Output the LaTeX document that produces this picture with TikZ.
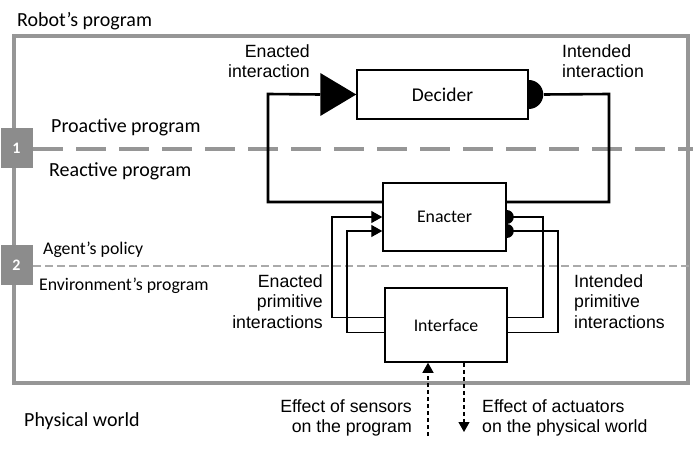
\documentclass[tikz,border=0pt]{standalone}
\usepackage{fontspec}
\setmainfont{Carlito}
\newfontfamily\arialf{Liberation Sans}
\usetikzlibrary{arrows.meta}
\definecolor{framegray}{RGB}{150,150,150}
\definecolor{boxgray}{RGB}{140,140,140}
\definecolor{thingray}{RGB}{170,170,170}
\tikzset{
  frame/.style={draw=framegray,line width=4pt},
  thickdash/.style={draw=framegray,line width=3.5pt,dash pattern=on 30pt off 13pt},
  thindash/.style={draw=thingray,line width=1.3pt,dash pattern=on 8pt off 4pt},
  numbox/.style={fill=boxgray,minimum width=32pt,minimum height=40pt,inner sep=0pt,text=white,font=\fontsize{16}{18}\selectfont\bfseries},
  blockbox/.style={draw,line width=1.5pt,inner sep=0pt},
  loopline/.style={line width=2.6pt},
  wire/.style={line width=1.3pt},
  tipin/.style={-{Triangle[length=11pt,width=12pt]}},
  dasharrow/.style={line width=1.2pt,dash pattern=on 4pt off 3pt,-{Triangle[length=10pt,width=11pt]}},
  calbig/.style={inner sep=0pt,font=\fontsize{20}{24}\selectfont},
  calmid/.style={inner sep=0pt,font=\fontsize{17.8}{21}\selectfont},
  arlab/.style={inner sep=0pt,font=\arialf\fontsize{17.7}{20.5}\selectfont},
}
\begin{document}
\begin{tikzpicture}[x=1pt,y=-1pt]
\useasboundingbox (0,0) rectangle (693,457);
% frame and separators
\draw[frame] (14,36) rectangle (688,383);
\draw[thickdash] (33,149) -- (693,149);
\draw[thindash] (33,266) -- (693,266);
\node[numbox] (n1) at (16.5,148.5) {1};
\node[numbox] (n2) at (16.5,265) {2};
% texts left
\node[calbig,anchor=base west] (robot) at (17,27) {Robot’s program};
\node[calbig,anchor=base west] (proact) at (51,133) {Proactive program};
\node[calbig,anchor=base west] (react) at (49,177) {Reactive program};
\node[calmid,anchor=base west] (agent) at (43,254) {Agent’s policy};
\node[calmid,anchor=base west] (envp) at (39,290) {Environment’s program};
\node[calbig,anchor=base west] (phys) at (24,426) {Physical world};
% blocks
\node[blockbox,minimum width=171pt,minimum height=49pt,font=\fontsize{19.5}{22}\selectfont] (decider) at (442.5,94.5) {Decider};
\node[blockbox,minimum width=123pt,minimum height=68pt,font=\fontsize{17.8}{21}\selectfont] (enacter) at (444.5,217) {Enacter};
\node[blockbox,minimum width=122pt,minimum height=74pt,font=\fontsize{17.8}{21}\selectfont] (interface) at (446,325) {Interface};
% main loop
\coordinate (cL) at (268,94);
\coordinate (cR) at (609,94);
\coordinate (ly) at (0,202);
\draw[loopline] ([xshift=-36pt]decider.west) -- (cL) -- (cL |- ly) -- (enacter.west |- ly);
\draw[loopline] ([xshift=15pt]decider.east) -- (cR) -- (cR |- ly) -- (enacter.east |- ly);
\fill (decider.west) -- ++(-36,-21.5) -- ++(0,43) -- cycle;
\fill (decider.east) ++(0,-14.5) arc[start angle=-90,end angle=90,radius=14.5] -- cycle;
% primitive wires
\coordinate (w1) at (332,217);
\coordinate (w2) at (347,231);
\coordinate (v1) at (543,217);
\coordinate (v2) at (558,231);
\coordinate (b1) at (0,317.5);
\coordinate (b2) at (0,332.5);
\draw[wire,tipin] (interface.west |- b1) -- (w1 |- b1) -- (w1) -- (enacter.west |- w1);
\draw[wire,tipin] (interface.west |- b2) -- (w2 |- b2) -- (w2) -- (enacter.west |- w2);
\draw[wire] (enacter.east |- v1) -- (v1) -- (v1 |- b1) -- (interface.east |- b1);
\draw[wire] (enacter.east |- v2) -- (v2) -- (v2 |- b2) -- (interface.east |- b2);
\fill (enacter.east |- v1) ++(0,-7) arc[start angle=-90,end angle=90,radius=7] -- cycle;
\fill (enacter.east |- v2) ++(0,-7) arc[start angle=-90,end angle=90,radius=7] -- cycle;
% sensors / actuators
\coordinate (s0) at (428,436);
\coordinate (a0) at (464,432);
\draw[dasharrow] (s0) -- (s0 |- interface.south);
\draw[dasharrow] (a0 |- interface.south) -- (a0);
% arial labels
\node[arlab,align=right,anchor=north east] (enint) at (310,44) {Enacted\\interaction};
\node[arlab,align=left,anchor=north west] (inint) at (562,44) {Intended\\interaction};
\node[arlab,align=right,anchor=north east] (enprim) at (323,274) {Enacted\\primitive\\interactions};
\node[arlab,align=left,anchor=north west] (inprim) at (574,274) {Intended\\primitive\\interactions};
\node[arlab,align=right,anchor=north east] (sens) at (412,399) {Effect of sensors\\on the program};
\node[arlab,align=left,anchor=north west] (act) at (482,399) {Effect of actuators\\on the physical world};
\end{tikzpicture}
\end{document}
